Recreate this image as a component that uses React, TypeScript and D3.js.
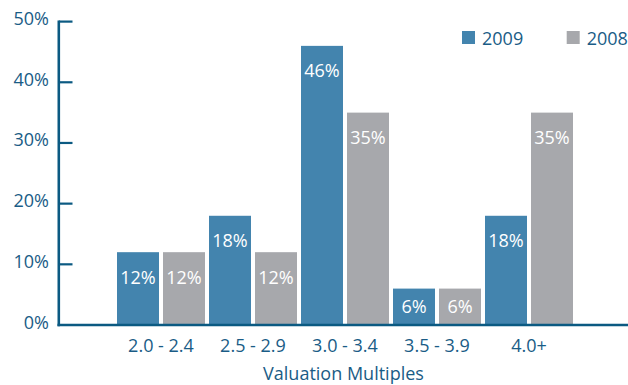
import React from 'react';
import * as d3 from 'd3';

const categories = ['2.0 - 2.4', '2.5 - 2.9', '3.0 - 3.4', '3.5 - 3.9', '4.0+'];
const seriesNames = ['2009', '2008'];
const values2009 = [12, 18, 46, 6, 18];
const values2008 = [12, 12, 35, 6, 35];
const yTicks = [0, 10, 20, 30, 40, 50];
const xTitle = 'Valuation Multiples';

const width = 628;
const height = 385;
const colors = ['#4384ae', '#a7a8ac'];
const axisColor = '#0b5a82';
const textColor = '#1a5c86';
const font = '"Open Sans", "DejaVu Sans", sans-serif';

export default function App() {
  const seriesValues = [values2009, values2008];

  const y = d3.scaleLinear().domain([0, 50]).range([325, 21.6]);

  const pad = 4 / 92;
  const x = d3
    .scaleBand<string>()
    .domain(categories)
    .range([115, 575])
    .paddingInner(pad)
    .paddingOuter(pad / 2);

  const xs = d3
    .scaleBand<string>()
    .domain(seriesNames)
    .range([0, x.bandwidth()])
    .paddingInner(4 / 46);

  const axisX = 58.8;

  return (
    <svg
      width={width}
      height={height}
      style={{ position: 'absolute', left: 0, top: 0, background: '#fff' }}
      fontFamily={font}
    >
      {/* bars */}
      {categories.map((c, i) => (
        <g key={c} transform={`translate(${x(c)},0)`}>
          {seriesNames.map((s, j) => {
            const v = seriesValues[j][i];
            const top = y(v);
            const bx = xs(s)!;
            const mid = (top + y(0)) / 2;
            const labelY = Math.min(top + 25, mid);
            return (
              <g key={s}>
                <rect x={bx} y={top} width={xs.bandwidth()} height={y(0) - top} fill={colors[j]} />
                <text
                  x={bx + xs.bandwidth() / 2}
                  y={labelY}
                  dy="0.36em"
                  textAnchor="middle"
                  fill="#fff"
                  fontSize={18}
                >
                  {v + '%'}
                </text>
              </g>
            );
          })}
          <text
            x={x.bandwidth() / 2}
            y={352}
            textAnchor="middle"
            fill={textColor}
            fontSize={18}
          >
            {c}
          </text>
        </g>
      ))}

      {/* y axis */}
      <line x1={axisX} x2={axisX} y1={20.4} y2={326.2} stroke={axisColor} strokeWidth={2.6} />
      {yTicks.map((t) => (
        <g key={t}>
          {t > 0 && (
            <line x1={axisX} x2={72.5} y1={y(t)} y2={y(t)} stroke={axisColor} strokeWidth={2.2} />
          )}
          <text x={49} y={y(t) + 3.5} textAnchor="end" fill={textColor} fontSize={18}>
            {t + '%'}
          </text>
        </g>
      ))}

      {/* x axis */}
      <line x1={axisX - 1.3} x2={width} y1={y(0)} y2={y(0)} stroke={axisColor} strokeWidth={2.4} />

      <text x={343.5} y={380} textAnchor="middle" fill={textColor} fontSize={18}>
        {xTitle}
      </text>

      {/* legend */}
      {seriesNames.map((s, j) => (
        <g key={s} transform={`translate(${462 + j * 104.7},31)`}>
          <rect width={13} height={13} fill={colors[j]} />
          <text x={20} y={14} fill={textColor} fontSize={18}>
            {s}
          </text>
        </g>
      ))}
    </svg>
  );
}
